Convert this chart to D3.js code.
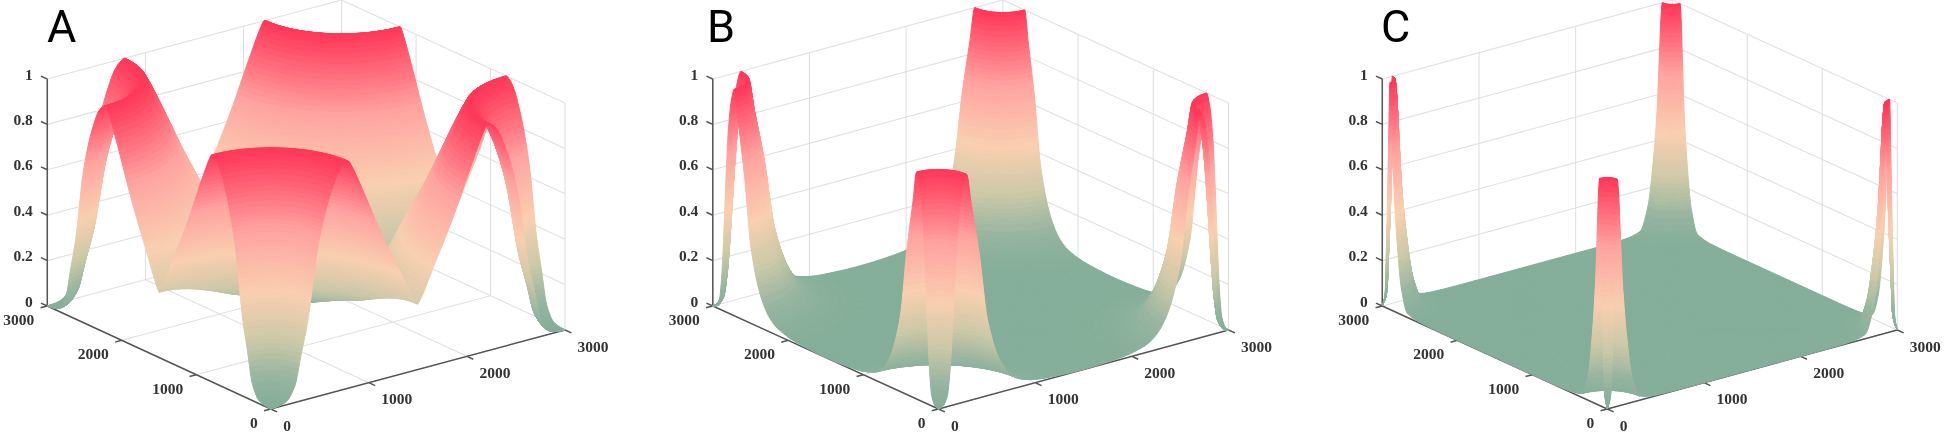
<!DOCTYPE html>
<html>
<head>
<meta charset="utf-8">
<script src="https://cdn.jsdelivr.net/npm/d3@7"></script>
<style>
  html, body { margin: 0; background: #fff; }
  svg { display: block; filter: blur(0.45px); }
  text { font-family: "Liberation Serif", serif; font-weight: bold; font-size: 15.5px; fill: #333; }
  .letter { font-family: Roboto, sans-serif; font-weight: normal; font-size: 45px; fill: #000; }
</style>
</head>
<body>
<svg width="1946" height="434"></svg>
<script>
const panelLabels = ['A', 'B', 'C']
const planeTicks = [0, 1000, 2000, 3000]
const heightTicks = [0, 0.2, 0.4, 0.6, 0.8, 1]
const heightTickLabels = ['0', '0.2', '0.4', '0.6', '0.8', '1']

// height against distance from the nearest corner
const distA = [0, 80, 157, 246, 313, 380, 426, 470, 537, 604, 694, 760, 790, 830, 923, 1136, 1349, 1482, 1698, 1765, 2122]
const heightA = [0, 0.003, 0.013, 0.073, 0.21, 0.348, 0.49, 0.63, 0.77, 0.87, 0.965, 0.995, 1, 0.97, 0.873, 0.634, 0.425, 0.3, 0.184, 0.165, 0.065]
const distB = [0, 40, 89, 120, 133, 155, 177, 210, 250, 290, 340, 420, 509, 642, 760, 868, 1100, 1500, 2122]
const heightB = [0, 0.005, 0.043, 0.156, 0.24, 0.415, 0.605, 0.82, 0.95, 1, 0.86, 0.64, 0.33, 0.135, 0.06, 0.03, 0.008, 0, 0]
const distC = [0, 27, 40, 49, 68, 85, 103, 118, 135, 158, 200, 253, 335, 500, 800, 2122]
const heightC = [0, 0.037, 0.08, 0.196, 0.45, 0.75, 1, 0.93, 0.755, 0.53, 0.3, 0.118, 0.018, 0.003, 0, 0]

const colorStops = [0, 0.1, 0.25, 0.44, 0.7, 1]
const colorValues = ['#84ae99', '#98b5a0', '#cdc9a8', '#f9cfb0', '#ffa3a0', '#ff3859']

const panels = [
  { label: panelLabels[0], dist: distA, height: heightA, front: [270.7, 409], right: [294.3, -79], left: [-223.4, -103], letterX: 47 },
  { label: panelLabels[1], dist: distB, height: heightB, front: [938.5, 409], right: [290, -79], left: [-225.7, -103], letterX: 707 },
  { label: panelLabels[2], dist: distC, height: heightC, front: [1607.3, 409], right: [290, -79], left: [-225, -103], letterX: 1381 },
]

const extent = 3000
const half = extent / 2
const zPixels = 227
const angleSteps = 24
const color = d3.scaleLinear().domain(colorStops).range(colorValues)
const svg = d3.select('svg')

// monotone curve through the read values, so the walls are not faceted
function smoothProfile(xs, ys) {
  const n = xs.length
  const slope = []
  for (let i = 0; i < n - 1; i++) slope.push((ys[i + 1] - ys[i]) / (xs[i + 1] - xs[i]))
  const m = [slope[0]]
  for (let i = 1; i < n - 1; i++) {
    if (slope[i - 1] * slope[i] <= 0) m.push(0)
    else m.push(2 * slope[i - 1] * slope[i] / (slope[i - 1] + slope[i]))
  }
  m.push(slope[n - 2])
  const find = d3.bisector(d => d).right
  return r => {
    const i = Math.max(0, Math.min(n - 2, find(xs, r) - 1))
    const h = xs[i + 1] - xs[i]
    const t = (r - xs[i]) / h
    return (2 * t ** 3 - 3 * t ** 2 + 1) * ys[i] + (t ** 3 - 2 * t ** 2 + t) * h * m[i] +
      (-2 * t ** 3 + 3 * t ** 2) * ys[i + 1] + (t ** 3 - t ** 2) * h * m[i + 1]
  }
}

function drawPanel(panel) {
  const g = svg.append('g')
  const unit = d3.scaleLinear().domain([0, extent]).range([0, 1])
  const zScale = d3.scaleLinear().domain([0, 1]).range([0, zPixels])
  const profile = smoothProfile(panel.dist, panel.height)

  const sx = (x, y, z) => panel.front[0] + unit(x) * panel.right[0] + unit(y) * panel.left[0]
  const sy = (x, y, z) => panel.front[1] + unit(x) * panel.right[1] + unit(y) * panel.left[1] - zScale(z)
  const pt = (x, y, z) => [sx(x, y, z), sy(x, y, z)]
  const seg = (a, b) => 'M' + a[0] + ',' + a[1] + 'L' + b[0] + ',' + b[1]

  // light box: two back walls and floor
  const grid = []
  planeTicks.forEach(t => {
    grid.push(seg(pt(t, 0, 0), pt(t, extent, 0)))
    grid.push(seg(pt(0, t, 0), pt(extent, t, 0)))
    grid.push(seg(pt(t, extent, 0), pt(t, extent, 1)))
    grid.push(seg(pt(extent, t, 0), pt(extent, t, 1)))
  })
  heightTicks.forEach(z => {
    grid.push(seg(pt(0, extent, z), pt(extent, extent, z)))
    grid.push(seg(pt(extent, extent, z), pt(extent, 0, z)))
  })
  g.append('path').attr('d', grid.join('')).attr('fill', 'none').attr('stroke', '#e0e0e0').attr('stroke-width', 1.1)

  // dark axes and tick marks
  const tickLen = 7
  const norm = v => { const n = Math.hypot(v[0], v[1]); return [v[0] / n * tickLen, v[1] / n * tickLen] }
  const tickL = norm(panel.left)
  const tickR = norm([-panel.right[0], -panel.right[1]])
  const tickD = norm([-panel.left[0], -panel.left[1]])
  const axes = [seg(pt(0, 0, 0), pt(extent, 0, 0)), seg(pt(0, 0, 0), pt(0, extent, 0)), seg(pt(0, extent, 0), pt(0, extent, 1))]
  planeTicks.forEach(t => {
    const a = pt(t, 0, 0)
    axes.push(seg(a, [a[0] + tickD[0], a[1] + tickD[1]]))
    const b = pt(0, t, 0)
    axes.push(seg(b, [b[0] + tickR[0], b[1] + tickR[1]]))
  })
  heightTicks.forEach(z => {
    const a = pt(0, extent, z)
    axes.push(seg(a, [a[0] + tickL[0], a[1] + tickL[1]]))
  })
  g.append('path').attr('d', axes.join('')).attr('fill', 'none').attr('stroke', '#555').attr('stroke-width', 1.5)

  // radial steps: fine where the height changes, coarse on the flat part
  const radii = [0]
  for (let i = 1; i < panel.dist.length; i++) {
    const dr = panel.dist[i] - panel.dist[i - 1]
    const dz = Math.abs(panel.height[i] - panel.height[i - 1])
    const k = Math.max(3, Math.ceil(dz / 0.02), Math.ceil(dr / 150))
    for (let j = 1; j <= k; j++) radii.push(panel.dist[i - 1] + dr * j / k)
  }

  const cells = []
  const corners = [[0, 0, 1, 1], [extent, 0, -1, 1], [0, extent, 1, -1], [extent, extent, -1, -1]]
  const vertex = (corner, angle, r) => {
    const limit = half / Math.max(Math.cos(angle), Math.sin(angle))
    const rr = Math.min(r, limit)
    const a = rr * Math.cos(angle)
    const b = rr * Math.sin(angle)
    return [corner[0] + corner[2] * a, corner[1] + corner[3] * b, profile(rr)]
  }
  corners.forEach(corner => {
    for (let i = 0; i < angleSteps; i++) {
      const a0 = i / angleSteps * Math.PI / 2
      const a1 = (i + 1) / angleSteps * Math.PI / 2
      const lim = half / Math.max(Math.min(Math.cos(a0), Math.cos(a1)), Math.min(Math.sin(a0), Math.sin(a1)), Math.SQRT1_2)
      for (let j = 1; j < radii.length; j++) {
        if (radii[j - 1] >= lim) continue
        const verts = [vertex(corner, a0, radii[j - 1]), vertex(corner, a1, radii[j - 1]), vertex(corner, a1, radii[j]), vertex(corner, a0, radii[j])]
        const mx = d3.mean(verts, v => v[0])
        const my = d3.mean(verts, v => v[1])
        const mz = d3.mean(verts, v => v[2])
        cells.push({ verts, mz, depth: unit(mx) + 1.3 * unit(my) - 0.95 * mz })
      }
    }
  })
  cells.sort((a, b) => b.depth - a.depth)

  g.append('g').selectAll('path')
    .data(cells)
    .join('path')
    .attr('d', d => 'M' + d.verts.map(v => pt(v[0], v[1], v[2]).map(n => n.toFixed(2)).join(',')).join('L') + 'Z')
    .attr('fill', d => color(d.mz))
    .attr('stroke', d => color(d.mz))
    .attr('stroke-width', 1)

  // tick labels
  planeTicks.forEach(t => {
    g.append('text').attr('x', sx(t, 0, 0) + 12.5).attr('y', sy(t, 0, 0) + 21.5).text(t)
    g.append('text').attr('x', sx(0, t, 0) - 13).attr('y', sy(0, t, 0) + 19).attr('text-anchor', 'end').text(t)
  })
  heightTicks.forEach((z, i) => {
    g.append('text').attr('x', sx(0, extent, z) - 14.5).attr('y', sy(0, extent, z) + 0.5).attr('text-anchor', 'end').text(heightTickLabels[i])
  })

  g.append('text').attr('class', 'letter').attr('x', panel.letterX).attr('y', 42).text(panel.label)
}

panels.forEach(drawPanel)
</script>
</body>
</html>
